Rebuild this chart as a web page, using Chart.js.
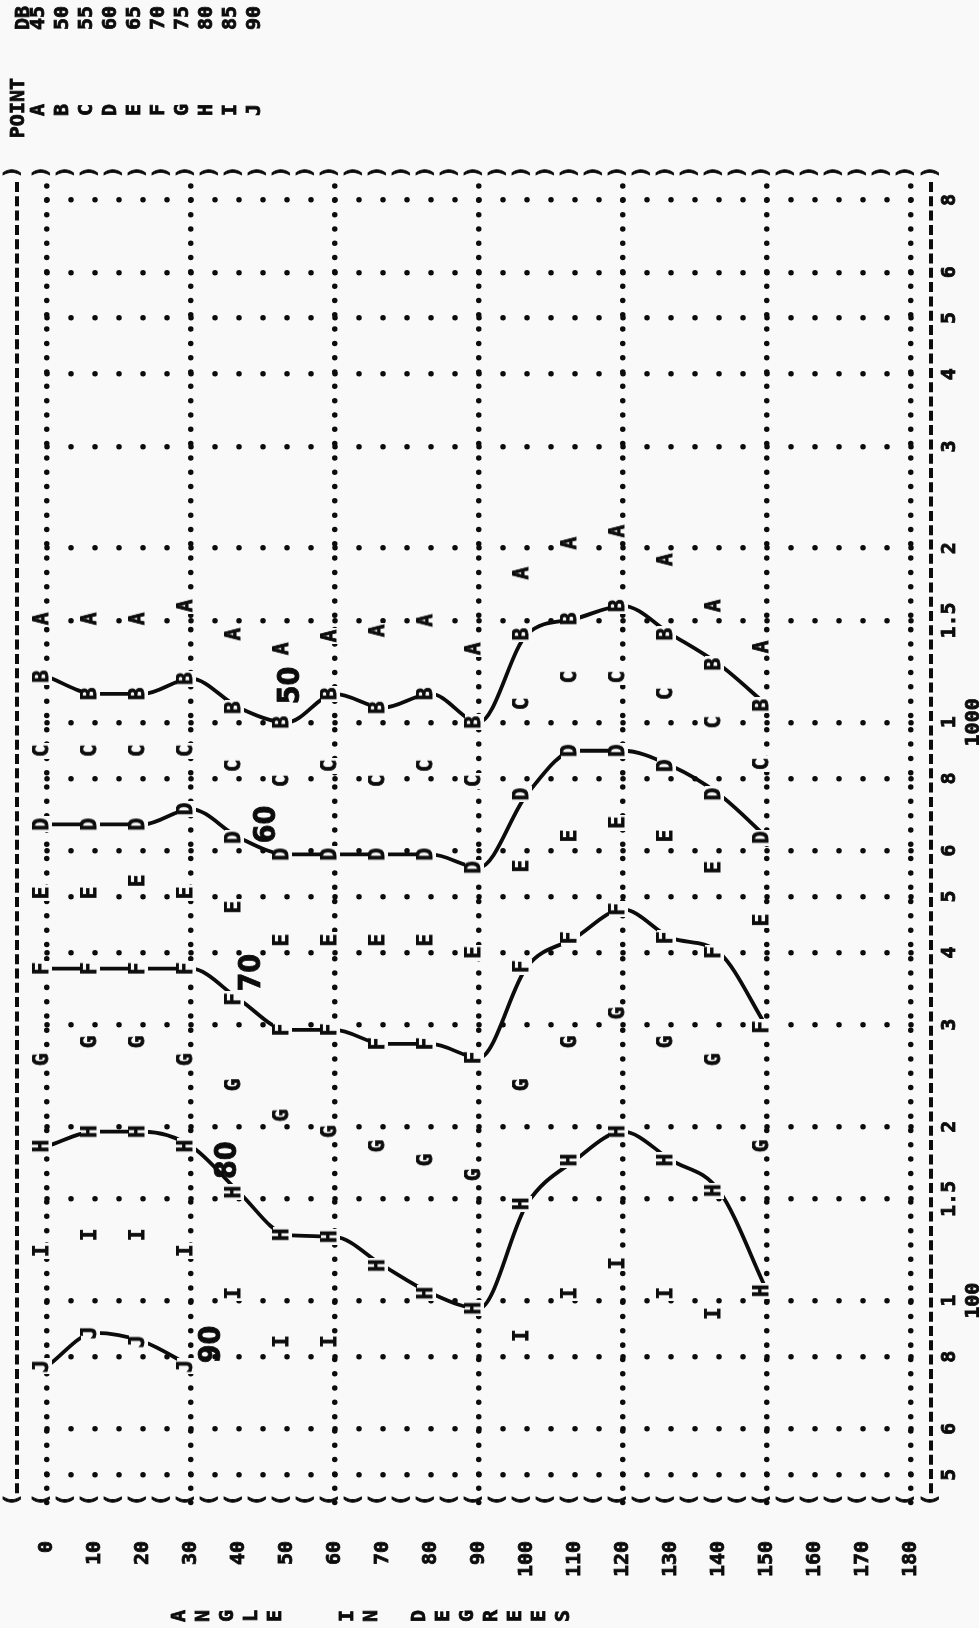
<!DOCTYPE html>
<html>
<head>
<meta charset="utf-8">
<title>Angle in degrees</title>
<script src="https://cdn.jsdelivr.net/npm/chart.js@4.4.1/dist/chart.umd.min.js"></script>
<style>
  html, body { margin: 0; padding: 0; background: #f9f9f9; }
  canvas { display: block; }
</style>
</head>
<body>
<canvas id="plot" width="979" height="1628"></canvas>
<script>
// angles (degrees) where each level was read
const angles = [0, 10, 20, 30, 40, 50, 60, 70, 80, 90, 100, 110, 120, 130, 140, 150];

// frequency (Hz) for each level, one list per plot letter
const pointA = [1510, 1510, 1510, 1590, 1420, 1340, 1410, 1440, 1500, 1340, 1810, 2040, 2140, 1910, 1590, 1350];
const pointB = [1200, 1120, 1120, 1190, 1060, 1000, 1120, 1060, 1120, 1000, 1420, 1510, 1590, 1420, 1260, 1070];
const pointC = [893, 893, 893, 893, 841, 792, 841, 792, 841, 792, 1076, 1197, 1197, 1120, 1000, 847];
const pointD = [666, 666, 666, 708, 632, 591, 591, 591, 591, 561, 751, 893, 893, 841, 751, 632];
const pointE = [507, 507, 532, 507, 479, 420, 420, 420, 420, 400, 564, 636, 671, 636, 561, 455];
const pointF = [375, 375, 375, 375, 332, 294, 294, 278, 278, 263, 378, 424, 475, 424, 400, 297];
const pointG = [261, 280, 280, 261, 236, 209, 196, 185, 175, 165, 236, 280, 314, 280, 261, 185];
const pointH = [185, 196, 196, 185, 154, 130, 129, 115, 103, 97, 147, 175, 196, 175, 155, 104];
const pointI = [122, 130, 130, 122, 103, 85, 85, null, null, null, 87, 103, 116, 103, 95, null];
const pointJ = [77, 88, 85, 77, null, null, null, null, null, null, null, null, null, null, null, null];

const pointLetters = ['A', 'B', 'C', 'D', 'E', 'F', 'G', 'H', 'I', 'J'];
const dbLevels = [45, 50, 55, 60, 65, 70, 75, 80, 85, 90];
// letters joined by hand drawn contours
const contourLetters = ['B', 'D', 'F', 'H', 'J'];

const angleTicks = [0, 10, 20, 30, 40, 50, 60, 70, 80, 90, 100, 110, 120, 130, 140, 150, 160, 170, 180];
const freqTicks = [50, 60, 80, 100, 150, 200, 300, 400, 500, 600, 800, 1000, 1500, 2000, 3000, 4000, 5000, 6000, 8000];
const freqTickLabels = ['5', '6', '8', '1', '1.5', '2', '3', '4', '5', '6', '8', '1', '1.5', '2', '3', '4', '5', '6', '8'];
const decadeLabels = { 100: '100', 1000: '1000' };

// hand written DB values next to the contours
const contourLabels = ['50', '60', '70', '80', '90'];
const contourLabelAngles = [50.8, 45.8, 42.7, 37.7, 34.4];
const contourLabelFreqs = [1158, 666, 369, 175, 84];

const axisTitle = 'ANGLE  IN DEGREES';

const ink = '#0c0c0c';
const paper = '#f9f9f9';
const mono = '"DejaVu Sans Mono", "Liberation Mono", monospace';

const series = [pointA, pointB, pointC, pointD, pointE, pointF, pointG, pointH, pointI, pointJ];

// printed letter, upright on a small stamp; rotated by chart.js
function letterStamp(ch) {
  const c = document.createElement('canvas');
  c.width = 16;
  c.height = 30;
  const g = c.getContext('2d');
  g.fillStyle = paper;
  g.fillRect(0, 1, 16, 19);
  g.fillStyle = ink;
  g.strokeStyle = ink;
  g.lineWidth = 0.8;
  g.font = 'bold 21px ' + mono;
  g.textAlign = 'center';
  g.textBaseline = 'middle';
  g.fillText(ch, 8, 11);
  g.strokeText(ch, 8, 11);
  return c;
}

function upText(ctx, text, x, y, align) {
  ctx.save();
  ctx.translate(x, y);
  ctx.rotate(-Math.PI / 2);
  ctx.textAlign = align || 'center';
  ctx.textBaseline = 'middle';
  ctx.fillText(text, 0, 0);
  ctx.strokeText(text, 0, 0);
  ctx.restore();
}

const datasets = pointLetters.map((letter, i) => {
  const joined = contourLetters.includes(letter);
  return {
    label: letter,
    data: angles.map((a, k) => ({ x: a, y: series[i][k] })),
    showLine: joined,
    borderColor: ink,
    borderWidth: 3.8,
    cubicInterpolationMode: 'monotone',
    spanGaps: false,
    pointStyle: letterStamp(letter),
    pointRotation: -90,
    pointRadius: 8,
    clip: false
  };
});

const printout = {
  id: 'printout',
  beforeDraw(chart) {
    const ctx = chart.ctx;
    ctx.save();
    ctx.fillStyle = paper;
    ctx.fillRect(0, 0, chart.width, chart.height);
    ctx.restore();
    // dotted grid is printed with round dots
    ctx.lineCap = 'round';
  },
  afterDraw(chart) {
    const ctx = chart.ctx;
    const area = chart.chartArea;
    const xs = chart.scales.x;
    const ys = chart.scales.y;
    ctx.save();
    ctx.fillStyle = ink;
    ctx.strokeStyle = ink;

    // frame: dashed sides, bracket characters top and bottom
    const leftX = area.left - 30;
    const rightX = area.right + 20;
    ctx.lineCap = 'butt';
    ctx.lineWidth = 4;
    ctx.setLineDash([10, 4.3]);
    [leftX, rightX].forEach(x => {
      ctx.beginPath();
      ctx.moveTo(x, area.top + 10);
      ctx.lineTo(x, area.bottom - 8);
      ctx.stroke();
    });
    ctx.setLineDash([]);
    ctx.lineWidth = 0.8;
    ctx.font = 'bold 20px ' + mono;
    const cols = [leftX - 4];
    for (let a = 0; a <= 180; a += 5) cols.push(xs.getPixelForValue(a) - 5);
    cols.push(rightX);
    cols.forEach(x => {
      upText(ctx, ')', x, area.top);
      upText(ctx, '(', x, area.bottom - 3);
    });

    // legend block
    upText(ctx, 'DB', 24, 6, 'right');
    dbLevels.forEach((d, k) => upText(ctx, String(d), 39 + 24 * k, 6, 'right'));
    upText(ctx, 'POINT', 19, 78, 'right');
    pointLetters.forEach((p, k) => upText(ctx, p, 39 + 24 * k, 110));

    // axis title, one character per printer line
    [...axisTitle].forEach((ch, i) => {
      if (ch !== ' ') upText(ctx, ch, 180 + 24 * i, 1616);
    });

    // hand written contour values
    ctx.font = 'bold 30px "Liberation Sans Narrow", "DejaVu Sans Condensed", sans-serif';
    contourLabels.forEach((t, i) => {
      upText(ctx, t, xs.getPixelForValue(contourLabelAngles[i]), ys.getPixelForValue(contourLabelFreqs[i]));
    });
    ctx.restore();
  }
};

const tickFont = { family: mono, size: 20, weight: 'bold' };

new Chart(document.getElementById('plot'), {
  type: 'line',
  data: { datasets: datasets },
  options: {
    responsive: false,
    animation: false,
    events: [],
    layout: { padding: { left: 47, top: 172, right: 0, bottom: 0 } },
    plugins: { legend: { display: false }, tooltip: { enabled: false } },
    scales: {
      x: {
        type: 'linear',
        min: 0,
        max: 180,
        afterBuildTicks: s => { s.ticks = angleTicks.map(v => ({ value: v })); },
        afterFit: s => { s.height = 125; },
        ticks: {
          autoSkip: false,
          minRotation: 90,
          maxRotation: 90,
          padding: 38,
          color: ink,
          textStrokeColor: ink,
          textStrokeWidth: 0.8,
          font: tickFont
        },
        grid: {
          color: c => (c.tick && c.tick.value % 30 === 0) ? ink : 'rgba(0,0,0,0)',
          lineWidth: 5.5,
          drawTicks: false
        },
        border: { display: false, dash: [0.01, 14.3], dashOffset: 0.3 }
      },
      y: {
        type: 'logarithmic',
        position: 'right',
        min: 44.7,
        max: 8943,
        afterBuildTicks: s => { s.ticks = freqTicks.map(v => ({ value: v })); },
        afterFit: s => { s.width = 68; },
        ticks: {
          autoSkip: false,
          minRotation: 90,
          maxRotation: 90,
          crossAlign: 'center',
          padding: 27,
          color: ink,
          textStrokeColor: ink,
          textStrokeWidth: 0.8,
          font: tickFont,
          callback: v => {
            const i = freqTicks.indexOf(v);
            return [freqTickLabels[i], decadeLabels[v] || ''];
          }
        },
        grid: { color: ink, lineWidth: 5.5, drawTicks: false },
        border: { display: false, dash: [0.01, 23.99] }
      }
    }
  },
  plugins: [printout]
});
</script>
</body>
</html>
